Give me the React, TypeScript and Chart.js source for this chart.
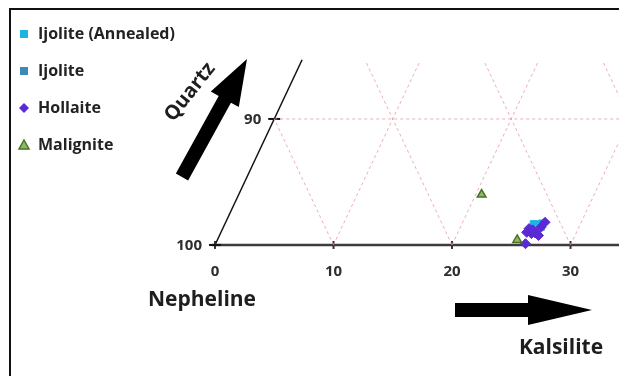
import { useEffect, useRef } from 'react';
import { Chart, registerables } from 'chart.js';

Chart.register(...registerables);

// Ternary section: x runs along the Nepheline–Kalsilite base, y is the height
// toward Quartz (0 at the base = 100, 10 = 90). The left edge is x = y / 2.
const ijoliteAnnealed = [
  { x: 27.2, y: 1.6 },
  { x: 27.5, y: 1.45 },
  { x: 26.9, y: 1.65 },
  { x: 27.6, y: 1.7 },
];
const ijolite = [
  { x: 26.6, y: 1.1 },
  { x: 27.1, y: 1.15 },
];
const hollaite = [
  { x: 26.2, y: 0.1 },
  { x: 27.85, y: 1.8 },
  { x: 26.3, y: 1.0 },
  { x: 26.7, y: 0.9 },
  { x: 27.0, y: 0.95 },
  { x: 26.5, y: 1.3 },
  { x: 27.3, y: 0.75 },
  { x: 26.8, y: 1.2 },
  { x: 27.5, y: 1.4 },
];
const malignite = [
  { x: 22.5, y: 4.0 },
  { x: 25.5, y: 0.4 },
];

const baseTicks = [0, 10, 20, 30];
const sideTicks = [0, 10];
const sideTickLabels = ['100', '90'];
const gridBases = [10, 20, 30, 40];
const gridLevels = [10];
const apexCut = 14.6;

const X_MIN = -18.14;
const X_MAX = 34.09;
const Y_MIN = -10.4;
const Y_MAX = 19.44;

const FONT = '"Open Sans", "DejaVu Sans", sans-serif';

type Pt = { x: number; y: number };

function gridLines(): Pt[][] {
  const lines: Pt[][] = [];
  for (const b of gridBases) {
    lines.push([{ x: b, y: 0 }, { x: b + apexCut / 2, y: apexCut }]);
    const h = Math.min(b, apexCut);
    lines.push([{ x: b, y: 0 }, { x: b - h / 2, y: h }]);
  }
  for (const lv of gridLevels) {
    lines.push([{ x: lv / 2, y: lv }, { x: X_MAX + 5, y: lv }]);
  }
  return lines;
}

const legendItems = [
  { label: 'Ijolite (Annealed)', shape: 'square', color: '#1cb4e2' },
  { label: 'Ijolite', shape: 'square', color: '#3b8bb8' },
  { label: 'Hollaite', shape: 'diamond', color: '#5a2ad6' },
  { label: 'Malignite', shape: 'triangle', color: '#8fb86a' },
];

function drawArrow(
  ctx: CanvasRenderingContext2D,
  x0: number, y0: number, x1: number, y1: number,
  shaft: number, headLen: number, headW: number,
) {
  const ang = Math.atan2(y1 - y0, x1 - x0);
  const len = Math.hypot(x1 - x0, y1 - y0);
  ctx.save();
  ctx.translate(x0, y0);
  ctx.rotate(ang);
  ctx.beginPath();
  ctx.moveTo(0, -shaft / 2);
  ctx.lineTo(len - headLen, -shaft / 2);
  ctx.lineTo(len - headLen, -headW / 2);
  ctx.lineTo(len, 0);
  ctx.lineTo(len - headLen, headW / 2);
  ctx.lineTo(len - headLen, shaft / 2);
  ctx.lineTo(0, shaft / 2);
  ctx.closePath();
  ctx.fillStyle = '#000';
  ctx.fill();
  ctx.restore();
}

function drawMarker(ctx: CanvasRenderingContext2D, shape: string, x: number, y: number, color: string) {
  ctx.save();
  ctx.fillStyle = color;
  ctx.beginPath();
  if (shape === 'square') {
    ctx.rect(x - 4, y - 4, 8, 8);
    ctx.fill();
  } else if (shape === 'diamond') {
    ctx.moveTo(x, y - 5);
    ctx.lineTo(x + 5, y);
    ctx.lineTo(x, y + 5);
    ctx.lineTo(x - 5, y);
    ctx.closePath();
    ctx.fill();
  } else {
    ctx.moveTo(x, y - 5);
    ctx.lineTo(x + 5, y + 4);
    ctx.lineTo(x - 5, y + 4);
    ctx.closePath();
    ctx.fill();
    ctx.strokeStyle = '#4b7026';
    ctx.lineWidth = 1.5;
    ctx.stroke();
  }
  ctx.restore();
}

const ternaryFrame = {
  id: 'ternaryFrame',
  beforeDatasetsDraw(chart: Chart) {
    const ctx = chart.ctx;
    const xs = chart.scales.x;
    const ys = chart.scales.y;
    const px = (v: number) => xs.getPixelForValue(v);
    const py = (v: number) => ys.getPixelForValue(v);
    ctx.save();
    // base line
    ctx.strokeStyle = '#3c3c3c';
    ctx.lineWidth = 2.5;
    ctx.beginPath();
    ctx.moveTo(px(0) - 3, py(0));
    ctx.lineTo(chart.width, py(0));
    ctx.stroke();
    // left edge
    ctx.strokeStyle = '#111';
    ctx.lineWidth = 1.5;
    ctx.beginPath();
    ctx.moveTo(px(0), py(0));
    ctx.lineTo(px(14.7 / 2), py(14.7));
    ctx.stroke();
    // tick marks on the base
    ctx.strokeStyle = '#333';
    ctx.lineWidth = 2;
    for (const t of baseTicks) {
      ctx.beginPath();
      ctx.moveTo(px(t), py(0) - 4);
      ctx.lineTo(px(t), py(0) + 4);
      ctx.stroke();
    }
    // tick marks on the left edge
    ctx.strokeStyle = '#111';
    for (const t of sideTicks) {
      ctx.beginPath();
      ctx.moveTo(px(t / 2) - 6, py(t));
      ctx.lineTo(px(t / 2) + 6, py(t));
      ctx.stroke();
    }
    ctx.restore();
  },
  afterDraw(chart: Chart) {
    const ctx = chart.ctx;
    const xs = chart.scales.x;
    const ys = chart.scales.y;
    const px = (v: number) => xs.getPixelForValue(v);
    const py = (v: number) => ys.getPixelForValue(v);
    ctx.save();

    // outer frame (top and left)
    ctx.strokeStyle = '#111';
    ctx.lineWidth = 2;
    ctx.beginPath();
    ctx.moveTo(10, chart.height);
    ctx.lineTo(10, 9);
    ctx.lineTo(chart.width, 9);
    ctx.stroke();

    // tick labels
    ctx.fillStyle = '#2e2e2e';
    ctx.font = `bold 15px ${FONT}`;
    ctx.textAlign = 'center';
    ctx.textBaseline = 'middle';
    for (const t of baseTicks) {
      ctx.fillText(String(t), px(t), py(0) + 27);
    }
    ctx.textAlign = 'right';
    sideTicks.forEach((t, i) => {
      ctx.fillText(sideTickLabels[i], px(t / 2) - 13, py(t) + 1);
    });

    // axis titles
    ctx.fillStyle = '#1e1e1e';
    ctx.font = `bold 21px ${FONT}`;
    ctx.textAlign = 'center';
    ctx.fillText('Nepheline', 202, 300);
    ctx.fillText('Kalsilite', 561, 348);

    ctx.save();
    ctx.translate(190, 92);
    ctx.rotate(-0.9);
    ctx.font = `bold 20px ${FONT}`;
    ctx.fillText('Quartz', 0, 0);
    ctx.restore();

    // direction arrows
    drawArrow(ctx, 182, 177, 247, 59, 14, 46, 32);
    drawArrow(ctx, 455, 310, 592, 310, 14, 64, 30);

    // legend
    ctx.font = `bold 16px ${FONT}`;
    ctx.textAlign = 'left';
    const rows = [34, 71, 108, 145];
    legendItems.forEach((it, i) => {
      drawMarker(ctx, it.shape, 24, rows[i], it.color);
      ctx.fillStyle = '#222';
      ctx.fillText(it.label, 38, rows[i]);
    });

    ctx.restore();
  },
};

export default function App() {
  const ref = useRef<HTMLCanvasElement>(null);

  useEffect(() => {
    if (!ref.current) return;
    const grid = gridLines().map((pts) => ({
      type: 'scatter' as const,
      data: pts,
      showLine: true,
      pointRadius: 0,
      borderColor: 'rgba(232, 150, 162, 0.8)',
      borderWidth: 1,
      borderDash: [3, 3],
      fill: false,
      order: 10,
    }));
    const chart = new Chart(ref.current, {
      type: 'scatter',
      data: {
        datasets: [
          {
            label: 'Ijolite (Annealed)',
            data: ijoliteAnnealed,
            pointStyle: 'rect',
            pointRadius: 5,
            backgroundColor: '#1cb4e2',
            borderColor: '#1cb4e2',
            order: 2,
          },
          {
            label: 'Ijolite',
            data: ijolite,
            pointStyle: 'rect',
            pointRadius: 5,
            backgroundColor: '#3b8bb8',
            borderColor: '#3b8bb8',
            order: 3,
          },
          {
            label: 'Hollaite',
            data: hollaite,
            pointStyle: 'rectRot',
            pointRadius: 5,
            backgroundColor: '#5a2ad6',
            borderColor: '#5a2ad6',
            order: 1,
          },
          {
            label: 'Malignite',
            data: malignite,
            pointStyle: 'triangle',
            pointRadius: 5,
            backgroundColor: '#8fb86a',
            borderColor: '#4b7026',
            borderWidth: 1.5,
            order: 0,
          },
          ...grid,
        ],
      },
      options: {
        animation: false,
        responsive: false,
        maintainAspectRatio: false,
        layout: { padding: 0, autoPadding: false },
        plugins: { legend: { display: false }, tooltip: { enabled: false } },
        scales: {
          x: { type: 'linear', min: X_MIN, max: X_MAX, display: false },
          y: { type: 'linear', min: Y_MIN, max: Y_MAX, display: false },
        },
      },
      plugins: [ternaryFrame],
    });
    return () => chart.destroy();
  }, []);

  return (
    <div style={{ position: 'absolute', left: 0, top: 0, width: 619, height: 376, background: '#fff' }}>
      <canvas ref={ref} width={619} height={376} style={{ width: 619, height: 376 }} />
    </div>
  );
}
